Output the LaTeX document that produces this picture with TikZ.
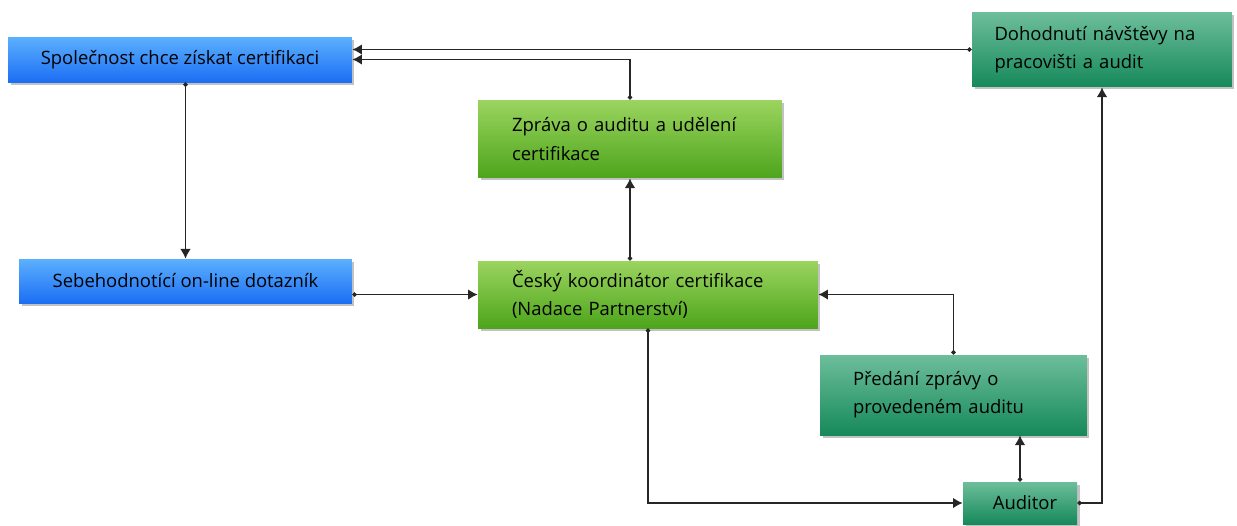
\documentclass[tikz,border=0pt]{standalone}
\usepackage{fontspec}
\setmainfont{Open Sans}
\usetikzlibrary{arrows.meta,shadows}
\definecolor{bluetop}{HTML}{5BB0FF}
\definecolor{bluebot}{HTML}{1C6EF2}
\definecolor{greentop}{HTML}{9BD45F}
\definecolor{greenbot}{HTML}{4DA51B}
\definecolor{tealtop}{HTML}{6DBE9B}
\definecolor{tealbot}{HTML}{16895B}

\begin{document}
\begin{tikzpicture}[x=0.02cm,y=-0.02cm,
  box/.style={inner ysep=0pt,text=black,font=\fontsize{10.5}{16}\selectfont,
    drop shadow={shadow xshift=0.05cm,shadow yshift=-0.05cm,fill=black!40,opacity=.6}},
  bluebox/.style={box,shading=axis,top color=bluetop,bottom color=bluebot},
  greenbox/.style={box,shading=axis,top color=greentop,bottom color=greenbot,align=left,inner xsep=0.68cm},
  tealbox/.style={box,shading=axis,top color=tealtop,bottom color=tealbot,align=left,inner xsep=0.66cm},
  flow/.style={{Circle[length=2.5pt]}-{Latex[length=5.5pt,width=6pt]},line width=0.8pt,black!85}]
  \useasboundingbox (0,0) rectangle (1237,525);
  \node[bluebox,minimum width=6.88cm,minimum height=0.9cm]          (firma)    at (180,59.5)  {Společnost chce získat certifikaci};
  \node[tealbox,inner xsep=0.45cm,text width=4.3cm,minimum height=1.5cm] (navsteva) at (1102,49.5) {Dohodnutí návštěvy na\\pracovišti a audit};
  \node[greenbox,text width=4.72cm,minimum height=1.56cm]           (zprava)   at (630,139)   {Zpráva o auditu a udělení\\certifikace};
  \node[bluebox,minimum width=6.66cm,minimum height=0.88cm]         (dotaznik) at (185.5,281) {Sebehodnotící on-line dotazník};
  \node[greenbox,text width=5.44cm,minimum height=1.34cm]           (koord)    at (648,294.5) {Český koordinátor certifikace\\(Nadace Partnerství)};
  \node[tealbox,text width=4.02cm,minimum height=1.6cm]             (predani)  at (953.5,395) {Předání zprávy o\\provedeném auditu};
  \node[tealbox,align=center,inner xsep=0pt,minimum width=2.28cm,minimum height=0.84cm] (auditor) at (1020,503) {\hspace{0.2cm}Auditor};
  \draw[flow] (navsteva.west) -- (navsteva.west -| firma.east);
  \draw[flow] (zprava.north) |- (firma.east);
  \draw[flow] (firma.south -| dotaznik.north) -- (dotaznik.north);
  \draw[flow] (dotaznik.east |- koord.west) -- (koord.west);
  \draw[flow] (koord.north -| zprava.south) -- (zprava.south);
  \draw[flow] (koord.south) |- (auditor.west);
  \draw[flow] (auditor.north) -- (auditor.north |- predani.south);
  \draw[flow] (predani.north) |- (koord.east);
  \draw[flow] (auditor.east) -| (navsteva.south);
\end{tikzpicture}
\end{document}
